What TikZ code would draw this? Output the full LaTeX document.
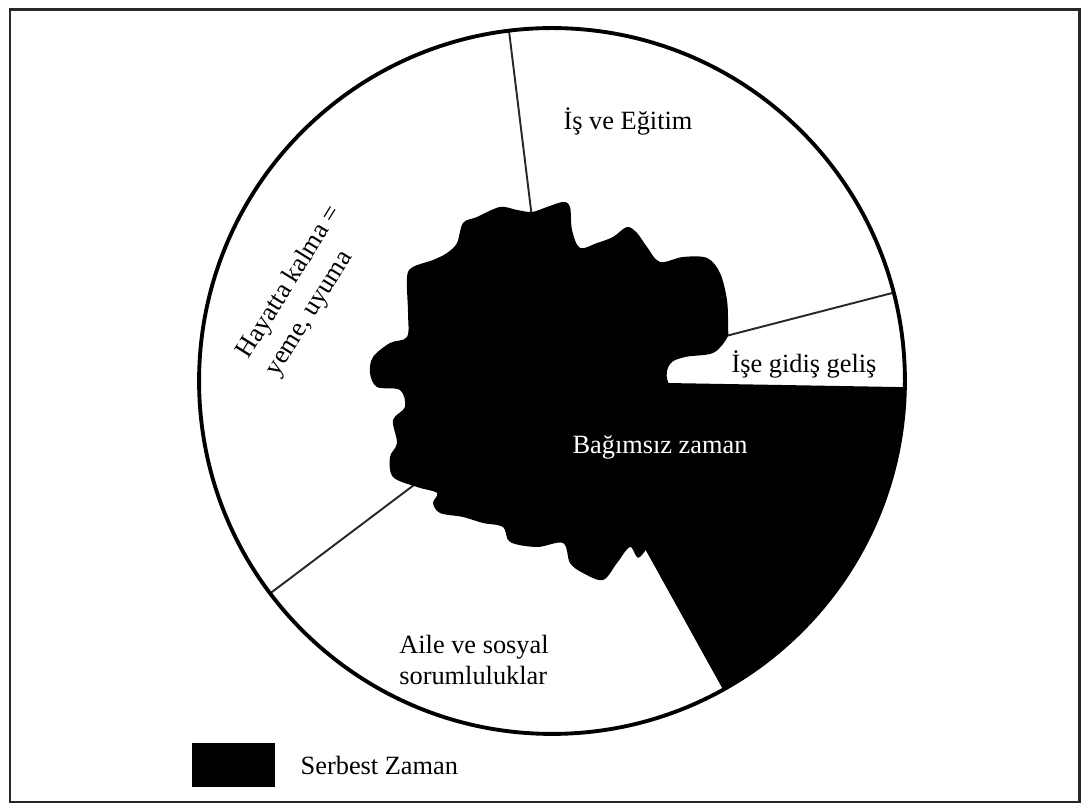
\documentclass[tikz,border=0pt]{standalone}
\usepackage{fontspec}
\setmainfont{Liberation Serif}
\usepackage{xcolor}
\usepackage{tikz}
\usetikzlibrary{positioning,calc}
\definecolor{ink}{RGB}{0,0,0}
\definecolor{edge}{RGB}{40,40,40}
\tikzset{
    rim/.style={draw=ink,line width=2.2pt},
    spoke/.style={draw=edge,line width=1.1pt},
    frame/.style={draw=edge,line width=1.7pt},
    lbl/.style={font=\fontsize{15}{18}\selectfont,inner sep=1pt},
    legbox/.style={rectangle,fill=ink,minimum width=1.66cm,minimum height=0.88cm,inner sep=0pt},
}
\begin{document}
\begin{tikzpicture}[x=0.02cm,y=0.02cm]
\useasboundingbox (0,0) rectangle (1085,807);
\fill[white] (0,0) rectangle (1085,807);
\draw[frame] (10,5) rectangle (1079,797);
% centre of the day and the points on its rim
\coordinate (c) at (552,426);
\coordinate (pTop)  at ($(c)+(97:7.06cm)$);
\coordinate (pRide) at ($(c)+(14.5:7.06cm)$);
\coordinate (pFree) at ($(c)+(-1:7.06cm)$);
\coordinate (pHome) at ($(c)+(217:7.06cm)$);
% free time wedge
\fill[ink] (c) -- (pFree) arc[start angle=-1,end angle=-61,radius=7.06cm] -- cycle;
\draw[spoke] (c) -- (pTop);
\draw[spoke] (c) -- (pRide);
\draw[spoke] (c) -- (pHome);
% free time spread inside
\fill[ink] plot[smooth cycle,tension=0.55] coordinates {
  (532,595) (547,600) (563,605) (570,600) (572,577) (580,559) (597,564)
  (613,570) (627,580) (637,574) (647,560) (660,545) (683,550) (707,549)
  (720,534) (727,507) (728,480) (727,469) (713,454) (685,450) (670,443)
  (668,425) (690,387) (660,287) (640,250) (630,260) (617,244) (603,227)
  (583,234) (570,244) (563,264) (537,260) (510,265) (503,280) (483,284)
  (463,290) (440,294) (433,304) (437,314) (417,320) (393,330) (390,350)
  (397,364) (393,387) (405,400) (400,417) (377,420) (370,434) (373,450)
  (390,464) (407,470) (408,494) (407,530) (413,540) (433,547) (447,554)
  (457,564) (463,584) (477,590) (500,600) (517,597)};
\draw[rim] (c) circle[radius=7.06cm];
\node[lbl] (work) at (628,686) {İş ve Eğitim};
\node[lbl] (ride) at (804,443) {İşe gidiş geliş};
\node[lbl,text=white] (free) at (660,360) {Bağımsız zaman};
\node[lbl,align=left] (family) at (474,147) {Aile ve sosyal\\sorumluluklar};
\node[lbl,align=left,rotate=58,font=\fontsize{15}{19}\selectfont] (survive) at (304,516) {Hayatta kalma =\\yeme, uyuma};
% legend
\node[legbox] (key) at (233.5,42) {};
\node[lbl,inner sep=0pt,right=0.5cm of key] (keytext) {Serbest Zaman};
\end{tikzpicture}
\end{document}
